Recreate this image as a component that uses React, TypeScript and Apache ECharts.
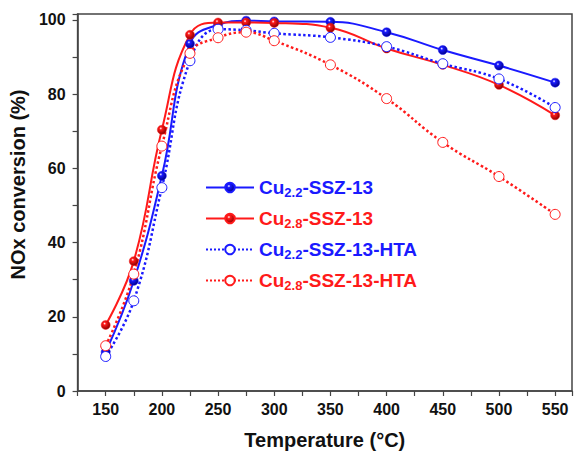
import React, { useEffect, useRef } from "react";
import * as echarts from "echarts";

const temperatures = [150, 175, 200, 225, 250, 275, 300, 350, 400, 450, 500, 550];
const cu22 = [10.5, 29.7, 58, 93.6, 98.7, 99.8, 99.6, 99.5, 96.7, 91.9, 87.7, 83.1];
const cu28 = [17.8, 35, 70.4, 96, 99.3, 99.3, 99.2, 97.9, 92.3, 87.9, 82.5, 74.3];
const cu22HTA = [9.3, 24.3, 54.8, 89, 97.5, 97.2, 96.4, 95.3, 92.8, 88.2, 84.1, 76.4];
const cu28HTA = [12.2, 31.5, 66, 91, 95.2, 96.7, 94.4, 87.9, 78.8, 67, 57.8, 47.6];

const seriesNames = ["Cu2.2-SSZ-13", "Cu2.8-SSZ-13", "Cu2.2-SSZ-13-HTA", "Cu2.8-SSZ-13-HTA"];
const yTicks = [0, 20, 40, 60, 80, 100];
const xTicks = [150, 200, 250, 300, 350, 400, 450, 500, 550];

const BLUE = "#1a1aff";
const RED = "#ff1a1a";
const FONT = "'Liberation Sans', Arial, sans-serif";

const ball = (c: string, dark: string) => ({
  type: "radial",
  x: 0.38,
  y: 0.35,
  r: 0.65,
  colorStops: [
    { offset: 0, color: "#ffffff" },
    { offset: 0.25, color: c },
    { offset: 1, color: dark },
  ],
});

export default function App() {
  const ref = useRef<HTMLDivElement>(null);
  useEffect(() => {
    if (!ref.current) return;
    const chart = echarts.init(ref.current, null, { renderer: "svg" });
    const pairs = (ys: number[]) => temperatures.map((t, i) => [t, ys[i]]);
    const solid = (name: string, ys: number[], color: string, dark: string) => ({
      name,
      type: "line",
      data: pairs(ys),
      smooth: 0.45,
      symbol: "circle",
      symbolSize: 9,
      lineStyle: { color, width: 2 },
      itemStyle: { color: ball(color, dark), borderColor: color, borderWidth: 0.5 },
    });
    const open = (name: string, ys: number[], color: string) => ({
      name,
      type: "line",
      data: pairs(ys),
      smooth: 0.45,
      symbol: "circle",
      symbolSize: 10,
      lineStyle: { color, width: 2.5, type: "dotted" },
      itemStyle: { color: "#ffffff", borderColor: color, borderWidth: 1 },
    });
    chart.setOption({
      animation: false,
      backgroundColor: "#ffffff",
      textStyle: { fontFamily: FONT },
      grid: {
        left: 77,
        right: 0,
        top: 14,
        bottom: 63,
        show: true,
        borderColor: "#444",
        borderWidth: 1.5,
        containLabel: false,
      },
      legend: {
        orient: "vertical",
        left: 200,
        top: 171,
        itemWidth: 48,
        itemHeight: 12,
        itemGap: 8,
        data: seriesNames,
        formatter: (name: string) => {
          const c = name.startsWith("Cu2.2") ? "b" : "r";
          const sub = name.substring(2, 5);
          const rest = name.substring(5);
          return `{${c}|Cu}{${c}s|${sub}}{${c}|${rest}}`;
        },
        textStyle: {
          fontFamily: FONT,
          rich: {
            b: { color: BLUE, fontSize: 19, fontWeight: "bold", fontFamily: FONT, lineHeight: 26 },
            bs: { color: BLUE, fontSize: 13, fontWeight: "bold", fontFamily: FONT, lineHeight: 26, padding: [10, 0, 0, 0] },
            r: { color: RED, fontSize: 19, fontWeight: "bold", fontFamily: FONT, lineHeight: 26 },
            rs: { color: RED, fontSize: 13, fontWeight: "bold", fontFamily: FONT, lineHeight: 26, padding: [10, 0, 0, 0] },
          },
        },
      },
      xAxis: {
        type: "value",
        min: 125,
        max: 565,
        interval: 25,
        name: "Temperature (°C)",
        nameLocation: "middle",
        nameGap: 39,
        nameTextStyle: { fontSize: 20, fontWeight: "bold", color: "#111", fontFamily: FONT },
        axisLine: { show: true, lineStyle: { color: "#444", width: 1.5 } },
        axisTick: { show: true, length: 5, lineStyle: { color: "#444", width: 1.2 } },
        splitLine: { show: false },
        axisLabel: {
          fontSize: 16,
          fontWeight: "bold",
          color: "#111",
          fontFamily: FONT,
          margin: 10,
          formatter: (v: number) => (xTicks.includes(v) ? String(v) : ""),
        },
      },
      yAxis: {
        type: "value",
        min: 0,
        max: 101.6,
        interval: 10,
        name: "NOx conversion (%)",
        nameLocation: "middle",
        nameGap: 42,
        nameTextStyle: { fontSize: 20, fontWeight: "bold", color: "#111", fontFamily: FONT, padding: [0, 0, 0, 36] },
        axisLine: { show: true, lineStyle: { color: "#444", width: 1.5 } },
        axisTick: { show: true, length: 5, lineStyle: { color: "#444", width: 1.2 } },
        splitLine: { show: false },
        axisLabel: {
          fontSize: 16,
          fontWeight: "bold",
          color: "#111",
          fontFamily: FONT,
          margin: 12,
          formatter: (v: number) => (yTicks.includes(v) ? String(v) : ""),
        },
      },
      series: [
        solid(seriesNames[0], cu22, BLUE, "#00008a"),
        solid(seriesNames[1], cu28, RED, "#8a0000"),
        open(seriesNames[2], cu22HTA, BLUE),
        open(seriesNames[3], cu28HTA, RED),
      ],
    });
    return () => chart.dispose();
  }, []);
  return (
    <div
      ref={ref}
      style={{ position: "fixed", left: 0, top: 0, width: 575, height: 455 }}
    />
  );
}
